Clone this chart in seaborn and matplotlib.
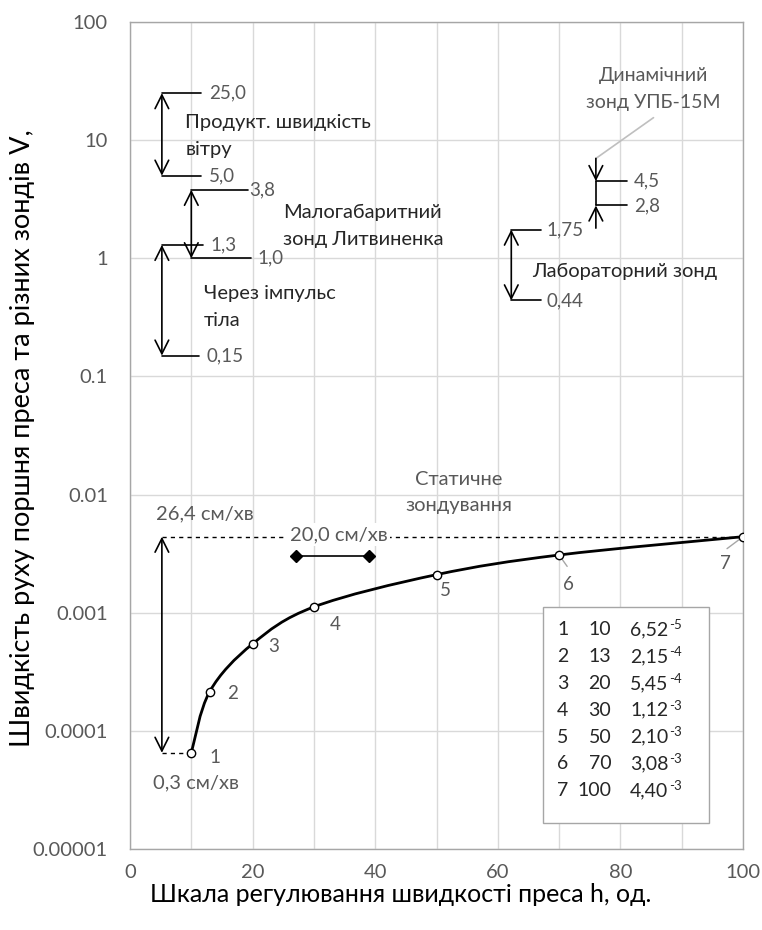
import numpy as np
import pandas as pd
import matplotlib
matplotlib.use("Agg")
import matplotlib.pyplot as plt
from matplotlib.path import Path
from matplotlib.patches import PathPatch
import seaborn as sns

# ---------------- data ----------------
h_scale = [10, 13, 20, 30, 50, 70, 100]
speed_v = [6.52e-5, 2.15e-4, 5.45e-4, 1.12e-3, 2.10e-3, 3.08e-3, 4.40e-3]
point_ids = ["1", "2", "3", "4", "5", "6", "7"]
table_values = ["6,52", "2,15", "5,45", "1,12", "2,10", "3,08", "4,40"]
table_exps = ["-5", "-4", "-4", "-3", "-3", "-3", "-3"]

y_ticks = [1e-5, 1e-4, 1e-3, 1e-2, 1e-1, 1, 10, 100]
y_ticklabels = ["0.00001", "0.0001", "0.001", "0.01", "0.1", "1", "10", "100"]
x_ticks = [0, 20, 40, 60, 80, 100]

# range annotations: (x, top, bottom, top label, bottom label)
wind_range = (5.2, 25.0, 5.0, "25,0", "5,0")
lit_range = (10.0, 3.8, 1.0, "3,8", "1,0")
body_range = (5.2, 1.3, 0.15, "1,3", "0,15")
lab_range = (62.2, 1.75, 0.44, "1,75", "0,44")
dyn_range = (76.0, 4.5, 2.8, "4,5", "2,8")
static_range = (5.2, 4.40e-3, 6.52e-5)
press_bar = [27, 39]
press_bar_v = 3.0e-3

# ---------------- style ----------------
sns.set_style("white")
plt.rcParams["font.family"] = ["Lato", "DejaVu Sans"]

GRAY = "#595959"
TXT = "#262626"
FS_TXT = 14.5
FS_NUM = 13.5
LS = 1.7

fig = plt.figure(figsize=(7.62, 9.30), dpi=100)
ax = fig.add_axes([130 / 762, 1 - 849 / 930, 613 / 762, 827 / 930])

df = pd.DataFrame({"h": h_scale, "v": speed_v})

# smoothed (Excel-style) curve through the data points, drawn as a Bezier path
px = np.array(h_scale, dtype=float)
pl = np.log10(np.array(speed_v, dtype=float))
P = np.column_stack([px, pl])
Pext = np.vstack([P[0], P, P[-1]])
verts = [P[0]]
codes = [Path.MOVETO]
for i in range(len(P) - 1):
    c1 = P[i] + (Pext[i + 2] - Pext[i]) / 6.0
    c2 = P[i + 1] - (Pext[i + 3] - Pext[i + 1]) / 6.0
    verts += [c1, c2, P[i + 1]]
    codes += [Path.CURVE4] * 3
verts = np.array(verts)
verts[:, 1] = 10 ** verts[:, 1]
ax.add_patch(PathPatch(Path(verts, codes), fc="none", ec="black", lw=2.0,
                       transform=ax.transData, zorder=4))

sns.lineplot(data=df, x="h", y="v", ax=ax, color="black", lw=0,
             marker="o", markersize=6, markerfacecolor="white",
             markeredgecolor="black", markeredgewidth=1.0, zorder=5)

ax.set_yscale("log")
ax.set_xlim(0, 100)
ax.set_ylim(1e-5, 100)
ax.set_yticks(y_ticks)
ax.set_yticklabels(y_ticklabels)
ax.yaxis.set_minor_locator(matplotlib.ticker.NullLocator())
ax.set_xticks(x_ticks)
ax.set_xticks(np.arange(0, 101, 10), minor=True)
ax.grid(True, which="both", axis="x", color="#d9d9d9", lw=1.0)
ax.grid(True, which="major", axis="y", color="#d9d9d9", lw=1.0)
ax.tick_params(axis="both", which="both", length=0, labelsize=14.5, labelcolor=GRAY)
ax.tick_params(axis="y", pad=16)
ax.tick_params(axis="x", pad=11)
for s in ax.spines.values():
    s.set_color("#a6a6a6")
    s.set_linewidth(1.0)
ax.set_xlabel("")
ax.set_ylabel("")

fig.text(23 / 762, 1 - 438 / 930, "Швидкість руху поршня преса та різних зондів V,",
         rotation=90, ha="center", va="center", fontsize=19.5, color="black")
fig.text(401 / 762, 1 - 894 / 930, "Шкала регулювання швидкості преса h, од.",
         ha="center", va="center", fontsize=18, color="black")

# point labels (offsets in points)
lab_off = [(17.3, -3.6), (16.6, -1.4), (15.1, -2.2), (15.1, -13.0),
           (6.5, -11.5), (6.5, -20.9), (-13.0, -19.4)]
for x, y, t, (dx, dy) in zip(h_scale, speed_v, point_ids, lab_off):
    ax.annotate(t, xy=(x, y), xytext=(dx, dy), textcoords="offset points",
                fontsize=FS_NUM, color=GRAY, ha="center", va="center")
# small leader lines for 6 and 7
ax.annotate("", xy=(h_scale[5], speed_v[5]), xytext=(5.8, -8.2), textcoords="offset points",
            arrowprops=dict(arrowstyle="-", color="#a6a6a6", lw=1, shrinkA=0, shrinkB=3))
ax.annotate("", xy=(h_scale[6], speed_v[6]), xytext=(-11.5, -8.6), textcoords="offset points",
            arrowprops=dict(arrowstyle="-", color="#a6a6a6", lw=1, shrinkA=0, shrinkB=3))

AP = dict(arrowstyle="<->,head_length=0.7,head_width=0.35", color="black", lw=1.2,
          shrinkA=0, shrinkB=0, mutation_scale=14)
AP1 = dict(arrowstyle="->,head_length=0.7,head_width=0.35", color="black", lw=1.2,
           shrinkA=0, shrinkB=0, mutation_scale=14)


def range_arrow(r, x_end_top, x_end_bot, x_lab_top, x_lab_bot):
    x, top, bot, lt, lb = r
    ax.annotate("", xy=(x, top), xytext=(x, bot), arrowprops=AP)
    ax.plot([x, x_end_top], [top, top], color="black", lw=1.2)
    ax.plot([x, x_end_bot], [bot, bot], color="black", lw=1.2)
    ax.text(x_lab_top, top, lt, fontsize=FS_NUM, color=GRAY, ha="left", va="center")
    ax.text(x_lab_bot, bot, lb, fontsize=FS_NUM, color=GRAY, ha="left", va="center")


range_arrow(wind_range, 11.6, 11.6, 12.9, 12.9)
range_arrow(lit_range, 19.2, 19.7, 19.4, 20.8)
range_arrow(body_range, 11.9, 11.3, 13.2, 12.4)
range_arrow(lab_range, 67.0, 67.0, 68.0, 68.0)

ax.text(9.0, 10.8, "Продукт. швидкість\nвітру", fontsize=FS_TXT, color=TXT,
        ha="left", va="center", linespacing=LS)
ax.text(25.0, 1.87, "Малогабаритний\nзонд Литвиненка", fontsize=FS_TXT, color=TXT,
        ha="left", va="center", linespacing=LS)
ax.text(12.0, 0.385, "Через імпульс\nтіла", fontsize=FS_TXT, color=TXT,
        ha="left", va="center", linespacing=LS)
ax.text(65.6, 0.78, "Лабораторний зонд", fontsize=FS_TXT, color=TXT,
        ha="left", va="center")

# dynamic probe
xd, dtop, dbot, ldt, ldb = dyn_range
ax.annotate("", xy=(xd, dtop), xytext=(xd, 7.0), arrowprops=AP1)
ax.annotate("", xy=(xd, dbot), xytext=(xd, 1.8), arrowprops=AP1)
ax.plot([xd, xd], [dbot, dtop], color="black", lw=1.2)
ax.plot([xd, 81.0], [dtop, dtop], color="black", lw=1.2)
ax.plot([xd, 81.0], [dbot, dbot], color="black", lw=1.2)
ax.text(82.2, dtop, ldt, fontsize=FS_NUM, color=GRAY, ha="left", va="center")
ax.text(82.2, dbot, ldb, fontsize=FS_NUM, color=GRAY, ha="left", va="center")
ax.plot([xd, 85.4], [7.0, 15.5], color="#bfbfbf", lw=1.2)
ax.text(85.4, 27.3, "Динамічний\nзонд УПБ-15М", fontsize=14, color=GRAY,
        ha="center", va="center", linespacing=LS)

# static probing
xs, stop, sbot = static_range
ax.plot([xs, 100], [stop, stop], color="black", lw=1.0, ls=(0, (3, 3)), zorder=2)
ax.plot([xs, h_scale[0]], [sbot, sbot], color="black", lw=1.0, ls=(0, (3, 3)), zorder=2)
ax.annotate("", xy=(xs, stop), xytext=(xs, sbot), arrowprops=AP)
ax.text(4.2, 6.9e-3, "26,4 см/хв", fontsize=FS_TXT, color=GRAY, ha="left", va="center")
ax.text(34.0, 4.6e-3, "20,0 см/хв", fontsize=FS_TXT, color=GRAY, ha="center", va="center",
        bbox=dict(boxstyle="square,pad=0.15", fc="white", ec="none"), zorder=3)
ax.text(3.8, 3.6e-5, "0,3 см/хв", fontsize=FS_TXT, color=GRAY, ha="left", va="center")
ax.text(53.7, 1.04e-2, "Статичне\nзондування", fontsize=FS_TXT, color=GRAY,
        ha="center", va="center", linespacing=LS)
ax.plot(press_bar, [press_bar_v, press_bar_v], color="black", lw=1.2,
        marker="D", markersize=6.5)

# table box
ax.add_patch(plt.Rectangle((0.674, 0.031), 0.271, 0.262, transform=ax.transAxes,
                           fc="white", ec="#a6a6a6", lw=1.0, zorder=6))
for i, (pid, hv, tv, te) in enumerate(zip(point_ids, h_scale, table_values, table_exps)):
    yy = 0.265 - i * 0.0324
    ax.text(0.706, yy, pid, transform=ax.transAxes, fontsize=14, color=TXT,
            ha="center", va="center", zorder=7)
    ax.text(0.785, yy, str(hv), transform=ax.transAxes, fontsize=14, color=TXT,
            ha="right", va="center", zorder=7)
    tmain = ax.text(0.816, yy, tv, transform=ax.transAxes, fontsize=14, color=TXT,
                    ha="left", va="center", zorder=7)
    ax.annotate(te, xy=(1.0, 0.42), xycoords=tmain, xytext=(0.5, 0),
                textcoords="offset points", fontsize=9.5, color=TXT,
                ha="left", va="bottom", zorder=7)

fig.savefig("out.png", dpi=100, facecolor="white")
